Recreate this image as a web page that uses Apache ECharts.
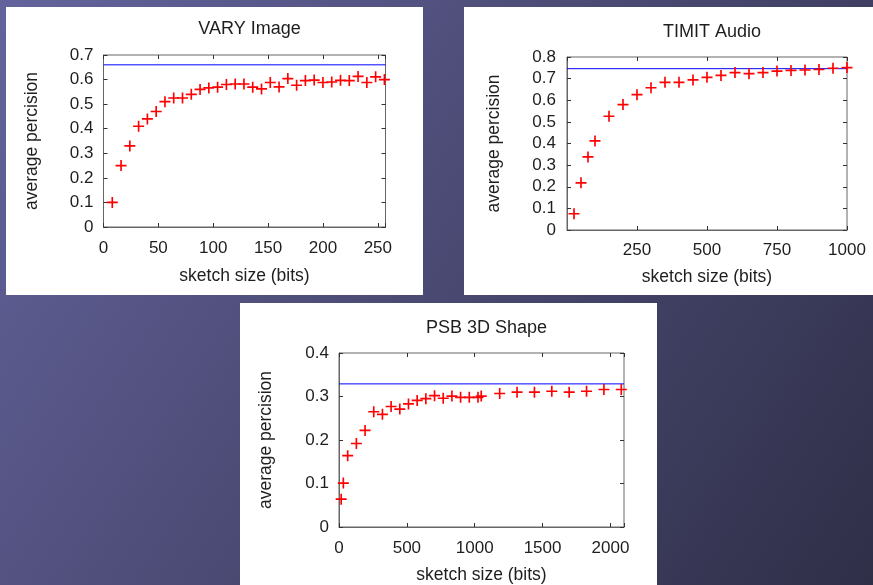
<!DOCTYPE html>
<html>
<head>
<meta charset="utf-8">
<script src="https://cdn.jsdelivr.net/npm/echarts@6/dist/echarts.min.js"></script>
<style>
  html, body { margin: 0; padding: 0; }
  #chart { width: 873px; height: 585px; }
</style>
</head>
<body>
<div id="chart"></div>
<script>
// VARY Image
const varyBits = [8, 16, 24, 32, 40, 48, 56, 64, 72, 80, 88, 96, 104, 112, 120, 128,
  136, 144, 152, 160, 168, 176, 184, 192, 200, 208, 216, 224, 232, 240, 248, 256]
const varyAP = [0.10, 0.25, 0.33, 0.41, 0.44, 0.47, 0.51, 0.525, 0.525, 0.54, 0.56, 0.566, 0.569, 0.58, 0.582, 0.582,
  0.569, 0.562, 0.588, 0.57, 0.604, 0.577, 0.596, 0.598, 0.588, 0.59, 0.597, 0.596, 0.613, 0.588, 0.611, 0.60]
const varyRef = 0.66

// TIMIT Audio
const timitBits = [25, 50, 75, 100, 150, 200, 250, 300, 350, 400, 450, 500, 550, 600, 650, 700, 750, 800, 850, 900, 950, 1000]
const timitAP = [0.075, 0.218, 0.338, 0.412, 0.526, 0.58, 0.626, 0.658, 0.683, 0.683, 0.694, 0.706, 0.715, 0.728, 0.723, 0.728,
  0.735, 0.738, 0.74, 0.742, 0.748, 0.751]
const timitRef = 0.746

// PSB 3D Shape
const psbBits = [16, 32, 64, 128, 192, 256, 320, 384, 448, 512, 576, 640, 704, 768, 832, 896, 960, 1024, 1048,
  1184, 1312, 1440, 1568, 1696, 1824, 1952, 2080]
const psbAP = [0.064, 0.101, 0.164, 0.192, 0.222, 0.265, 0.259, 0.277, 0.271, 0.283, 0.291, 0.295, 0.302, 0.296, 0.301, 0.298, 0.298, 0.298, 0.301,
  0.307, 0.310, 0.310, 0.312, 0.310, 0.312, 0.316, 0.316]
const psbRef = 0.329

const titles = ['VARY Image', 'TIMIT Audio', 'PSB 3D Shape']
const xName = 'sketch size (bits)'
const yName = 'average percision'

const font = "'Liberation Sans', Arial, sans-serif"
const textColor = '#1e1e1e'
const plus = 'path://M4.25,0H5.75V10H4.25Z M0,4.25H10V5.75H0Z'

const panels = [
  { grid: { left: 103.5, top: 55, width: 282, height: 172 }, title: [244.5, 15], x: [0, 257, 50], y: [0, 0.7, 0.1],
    bits: varyBits, ap: varyAP, ref: varyRef, xGap: 40, xMargin: 13, yGap: 62, yMargin: 10, hideMinX: false },
  { grid: { left: 567, top: 57, width: 280, height: 173 }, title: [707, 18], x: [0, 1000, 250], y: [0, 0.8, 0.1],
    bits: timitBits, ap: timitAP, ref: timitRef, xGap: 38, xMargin: 12, yGap: 64, yMargin: 11, hideMinX: true },
  { grid: { left: 339, top: 353, width: 285, height: 177 }, title: [481.5, 314], x: [0, 2100, 500], y: [0, 0.4, 0.1],
    bits: psbBits, ap: psbAP, ref: psbRef, xGap: 39, xMargin: 13, yGap: 64, yMargin: 10, hideMinX: false }
]

const tickStyle = { show: true, inside: true, length: 4, lineStyle: { color: '#333', width: 1 } }
const labelStyle = { fontFamily: font, fontSize: 17, color: textColor }
const nameStyle = { fontFamily: font, fontSize: 17.5, color: textColor }

const grid = [], xAxis = [], yAxis = [], series = [], title = []
panels.forEach((p, i) => {
  grid.push(Object.assign({ show: true, borderColor: '#666', borderWidth: 1 }, p.grid))
  title.push({
    text: titles[i], left: p.title[0], top: p.title[1], textAlign: 'center',
    textStyle: { fontFamily: font, fontSize: 18, fontWeight: 'normal', color: textColor }
  })
  const step = p.x[2]
  xAxis.push({
    type: 'value', gridIndex: i, position: 'bottom', min: p.x[0], max: p.x[1], interval: step,
    name: xName, nameLocation: 'middle', nameGap: p.xGap, nameTextStyle: nameStyle,
    axisLine: { show: true, onZero: false, lineStyle: { color: '#666' } }, axisTick: tickStyle, splitLine: { show: false },
    axisLabel: Object.assign({ margin: p.xMargin, showMinLabel: !p.hideMinX,
      formatter: v => (v % step === 0 ? String(v) : '') }, labelStyle)
  })
  xAxis.push({
    type: 'value', gridIndex: i, position: 'top', min: p.x[0], max: p.x[1], interval: step,
    axisLine: { show: false, onZero: false }, axisTick: tickStyle, axisLabel: { show: false }, splitLine: { show: false }
  })
  yAxis.push({
    type: 'value', gridIndex: i, position: 'left', min: p.y[0], max: p.y[1], interval: p.y[2],
    name: yName, nameLocation: 'middle', nameGap: p.yGap, nameTextStyle: nameStyle,
    axisLine: { show: true, onZero: false, lineStyle: { color: '#666' } }, axisTick: tickStyle, splitLine: { show: false },
    axisLabel: Object.assign({ margin: p.yMargin }, labelStyle)
  })
  yAxis.push({
    type: 'value', gridIndex: i, position: 'right', min: p.y[0], max: p.y[1], interval: p.y[2],
    axisLine: { show: false, onZero: false }, axisTick: tickStyle, axisLabel: { show: false }, splitLine: { show: false }
  })
  // reference level (blue horizontal line across the plot)
  series.push({
    type: 'line', xAxisIndex: 2 * i, yAxisIndex: 2 * i, z: 2,
    symbol: 'none', showSymbol: false, silent: true,
    lineStyle: { color: '#0000ff', width: 1, type: 'solid' },
    itemStyle: { color: '#0000ff' },
    data: [[p.x[0], p.ref], [p.x[1], p.ref]]
  })
  series.push({
    type: 'scatter', xAxisIndex: 2 * i, yAxisIndex: 2 * i, z: 3,
    symbol: plus, symbolSize: 11, itemStyle: { color: '#ff0000', opacity: 1 },
    clip: false,
    data: p.bits.map((b, k) => [b, p.ap[k]])
  })
})

const chart = echarts.init(document.getElementById('chart'))
chart.setOption({
  animation: false,
  graphic: [
    { type: 'rect', z: -20, shape: { x: 0, y: 0, width: 873, height: 585 },
      style: { fill: { type: 'linear', x: 0, y: 0, x2: 1, y2: 1,
        colorStops: [{ offset: 0, color: '#64639c' }, { offset: 1, color: '#2f2f48' }] } } },
    { type: 'rect', z: -10, shape: { x: 6, y: 7, width: 417, height: 288 }, style: { fill: '#fff' } },
    { type: 'rect', z: -10, shape: { x: 464, y: 7, width: 409, height: 288 }, style: { fill: '#fff' } },
    { type: 'rect', z: -10, shape: { x: 240, y: 303, width: 417, height: 282 }, style: { fill: '#fff' } }
  ],
  title, grid, xAxis, yAxis, series
})
</script>
</body>
</html>
